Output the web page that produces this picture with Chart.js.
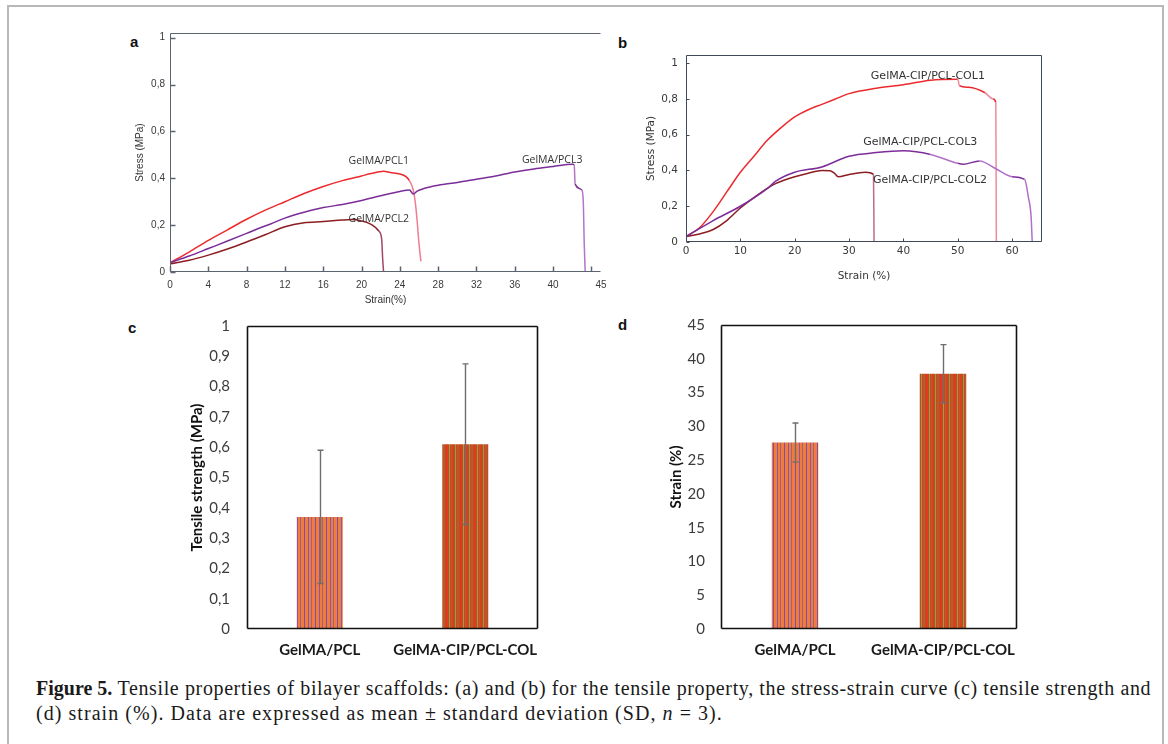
<!DOCTYPE html>
<html>
<head>
<meta charset="utf-8">
<script src="https://cdn.jsdelivr.net/npm/chart.js@4.4.1/dist/chart.umd.min.js"></script>
<style>
	html, body { margin: 0; padding: 0; background: #fff; }
	#fig { position: relative; width: 1168px; height: 744px; overflow: hidden; background: #fff; }
	#frame { position: absolute; left: 7px; top: 5px; width: 1157px; height: 800px; border: 2px solid #b8b8b8; box-sizing: border-box; }
	.panel { position: absolute; }
	.tag { position: absolute; font: bold 15px "Liberation Sans", Arial, sans-serif; line-height: 1; color: #111; }
	#caption { position: absolute; left: 36px; top: 676px; font: 20px "Liberation Serif", serif; line-height: 25px; color: #1a1a1a; white-space: nowrap; }
	#caption .l1 { letter-spacing: 0.62px; }
	#caption .l2 { letter-spacing: 1.05px; }
	#caption b { letter-spacing: 0; }
</style>
</head>
<body>
<div id="fig">
	<div id="frame"></div>
	<div class="tag" style="left:130px;top:34px">a</div>
	<div class="tag" style="left:618px;top:35px">b</div>
	<div class="tag" style="left:128px;top:320px">c</div>
	<div class="tag" style="left:618px;top:317px">d</div>
	<div class="panel" style="left:120px;top:20px;width:500px;height:300px"><canvas id="chartA"></canvas></div>
	<div class="panel" style="left:620px;top:40px;width:440px;height:250px"><canvas id="chartB"></canvas></div>
	<div class="panel" style="left:160px;top:300px;width:400px;height:370px"><canvas id="chartC"></canvas></div>
	<div class="panel" style="left:640px;top:300px;width:400px;height:370px"><canvas id="chartD"></canvas></div>
	<div id="caption"><span class="l1"><b>Figure 5.</b> Tensile properties of bilayer scaffolds: (a) and (b) for the tensile property, the stress-strain curve (c) tensile strength and</span><br><span class="l2">(d) strain (%). Data are expressed as mean ± standard deviation (SD, <i>n</i> = 3).</span></div>
</div>
<script>
( function () {
	'use strict';

	// (a) GelMA/PCL stress-strain curves
	var PCL1_STRAIN = [ 0, 2, 4, 6, 8, 10, 12, 14, 16, 18, 20, 21, 22.3, 23, 24, 24.6, 25, 25.4, 25.6, 25.8, 26, 26.2 ];
	var PCL1_STRESS = [ 0.04, 0.085, 0.135, 0.18, 0.225, 0.265, 0.3, 0.335, 0.365, 0.39, 0.41, 0.42, 0.43, 0.425, 0.418, 0.408, 0.39, 0.35, 0.3, 0.22, 0.12, 0.045 ];
	var PCL2_STRAIN = [ 0, 2, 4, 6, 8, 10, 12, 14, 16, 18, 19, 20, 21, 21.8, 22.1, 22.2, 22.3 ];
	var PCL2_STRESS = [ 0.035, 0.05, 0.072, 0.098, 0.128, 0.16, 0.193, 0.21, 0.215, 0.222, 0.224, 0.218, 0.203, 0.175, 0.14, 0.06, 0 ];
	var PCL3_STRAIN = [ 0, 2, 4, 6, 8, 9.5, 10.5, 12, 14, 16, 18, 20, 22, 24, 25, 25.4, 25.8, 26.5, 28, 30, 32, 34, 36, 38, 40, 42, 42.2, 42.3, 43, 43.15, 43.25, 43.35 ];
	var PCL3_STRESS = [ 0.04, 0.068, 0.1, 0.132, 0.165, 0.19, 0.205, 0.23, 0.255, 0.275, 0.288, 0.305, 0.325, 0.344, 0.35, 0.333, 0.345, 0.356, 0.37, 0.382, 0.396, 0.41, 0.427, 0.44, 0.45, 0.46, 0.458, 0.375, 0.35, 0.3, 0.12, 0 ];
	var A_X_TICKS = [ 0, 4, 8, 12, 16, 20, 24, 28, 32, 36, 40, 45 ];
	var A_X_LABELS = [ '0', '4', '8', '12', '16', '20', '24', '28', '32', '36', '40', '45' ];
	var A_X_MARKS = [ 0, 4, 8, 12, 16, 20, 24, 28, 32, 36, 40, 44 ];
	var A_Y_TICKS = [ 0, 0.2, 0.4, 0.6, 0.8, 1 ];
	var A_Y_LABELS = [ '0', '0,2', '0,4', '0,6', '0,8', '1' ];
	var A_NAMES = [ 'GelMA/PCL1', 'GelMA/PCL3', 'GelMA/PCL2' ];
	var A_NAME_X = [ 21.8, 39.9, 21.8 ];
	var A_NAME_Y = [ 0.474, 0.479, 0.227 ];

	// (b) GelMA-CIP/PCL-COL stress-strain curves
	var COL1_STRAIN = [ 0, 2.5, 5, 7.5, 10, 12.5, 15, 17.5, 20, 22.5, 25, 27.5, 30, 35, 40, 45, 50, 50.3, 52, 55, 56.5, 57, 57.1 ];
	var COL1_STRESS = [ 0.03, 0.08, 0.17, 0.28, 0.39, 0.48, 0.57, 0.64, 0.7, 0.74, 0.77, 0.8, 0.83, 0.86, 0.88, 0.905, 0.91, 0.875, 0.865, 0.835, 0.8, 0.78, 0 ];
	var COL2_STRAIN = [ 0, 2.5, 5, 7.5, 10, 13, 16, 18, 20, 22.5, 25, 26.5, 27.3, 28, 30, 33, 34.5, 34.6 ];
	var COL2_STRESS = [ 0.03, 0.045, 0.07, 0.12, 0.19, 0.26, 0.32, 0.345, 0.365, 0.385, 0.4, 0.398, 0.385, 0.365, 0.378, 0.39, 0.378, 0 ];
	var COL3_STRAIN = [ 0, 5, 10, 15, 16.5, 20, 25, 30, 35, 40, 45, 50, 51, 54, 57, 60, 62.3, 63, 63.5, 63.7 ];
	var COL3_STRESS = [ 0.03, 0.12, 0.2, 0.3, 0.34, 0.39, 0.42, 0.48, 0.5, 0.51, 0.49, 0.44, 0.435, 0.453, 0.41, 0.365, 0.35, 0.25, 0.14, 0 ];
	var B_X_TICKS = [ 0, 10, 20, 30, 40, 50, 60 ];
	var B_X_LABELS = [ '0', '10', '20', '30', '40', '50', '60' ];
	var B_Y_TICKS = [ 0, 0.2, 0.4, 0.6, 0.8, 1 ];
	var B_Y_LABELS = [ '0', '0,2', '0,4', '0,6', '0,8', '1' ];
	var B_NAMES = [ 'GelMA-CIP/PCL-COL1', 'GelMA-CIP/PCL-COL3', 'GelMA-CIP/PCL-COL2' ];
	var B_NAME_X = [ 44.5, 43.1, 44.9 ];
	var B_NAME_Y = [ 0.929, 0.56, 0.347 ];

	// (c), (d) bar charts, mean and SD
	var GROUPS = [ 'GelMA/PCL', 'GelMA-CIP/PCL-COL' ];
	var STRENGTH = [ 0.37, 0.61 ];
	var STRENGTH_SD = [ 0.22, 0.265 ];
	var STRAIN = [ 27.6, 37.8 ];
	var STRAIN_SD = [ 2.9, 4.3 ];
	var C_Y_LABELS = [ '0', '0,1', '0,2', '0,3', '0,4', '0,5', '0,6', '0,7', '0,8', '0,9', '1' ];
	var D_Y_LABELS = [ '0', '5', '10', '15', '20', '25', '30', '35', '40', '45' ];

	function pairs( xs, ys ) {
		return xs.map( function ( x, i ) {
			return { x: x, y: ys[ i ] };
		} );
	}

	function stripes( base, list, w ) {
		var c = document.createElement( 'canvas' );
		c.width = w;
		c.height = 4;
		var g = c.getContext( '2d' );
		g.fillStyle = base;
		g.fillRect( 0, 0, w, 4 );
		list.forEach( function ( s ) {
			g.fillStyle = s[ 2 ];
			g.fillRect( s[ 0 ], 0, s[ 1 ], 4 );
		} );
		return g.createPattern( c, 'repeat' );
	}

	// box lines and inward tick marks
	var framePlugin = {
		id: 'frame',
		afterDraw: function ( chart, args, o ) {
			var ctx = chart.ctx;
			var a = chart.chartArea;
			var L = Math.round( a.left ) + 0.5, R = Math.round( a.right ) - 0.5;
			var T = Math.round( a.top ) + 0.5, B = Math.round( a.bottom ) - 0.5;
			ctx.save();
			ctx.strokeStyle = o.color;
			ctx.lineWidth = o.width;
			ctx.beginPath();
			if ( o.sides.indexOf( 't' ) >= 0 ) { ctx.moveTo( L, T ); ctx.lineTo( R, T ); }
			if ( o.sides.indexOf( 'b' ) >= 0 ) { ctx.moveTo( L, B ); ctx.lineTo( R, B ); }
			if ( o.sides.indexOf( 'l' ) >= 0 ) { ctx.moveTo( L, T ); ctx.lineTo( L, B ); }
			if ( o.sides.indexOf( 'r' ) >= 0 ) { ctx.moveTo( R, T ); ctx.lineTo( R, B ); }
			ctx.stroke();
			if ( o.tickLen ) {
				ctx.lineWidth = o.tickWidth || 1;
				ctx.beginPath();
				( o.xMarks || [] ).forEach( function ( v ) {
					var px = Math.round( chart.scales.x.getPixelForValue( v ) ) + 0.5;
					ctx.moveTo( px, B );
					ctx.lineTo( px, B - o.tickLen );
				} );
				( o.yMarks || [] ).forEach( function ( v ) {
					var py = Math.round( chart.scales.y.getPixelForValue( v ) ) + 0.5;
					ctx.moveTo( L, py );
					ctx.lineTo( L + o.tickLen, py );
				} );
				ctx.stroke();
			}
			ctx.restore();
		},
	};

	// curve names placed in data coordinates
	var namesPlugin = {
		id: 'names',
		afterDatasetsDraw: function ( chart, args, o ) {
			var ctx = chart.ctx;
			ctx.save();
			ctx.font = o.font;
			ctx.fillStyle = o.color;
			ctx.textAlign = 'center';
			ctx.textBaseline = 'middle';
			o.names.forEach( function ( t, i ) {
				ctx.fillText( t, chart.scales.x.getPixelForValue( o.xs[ i ] ), chart.scales.y.getPixelForValue( o.ys[ i ] ) );
			} );
			ctx.restore();
		},
	};

	var errorPlugin = {
		id: 'errbars',
		afterDatasetsDraw: function ( chart, args, o ) {
			var ctx = chart.ctx;
			var ys = chart.scales.y;
			var meta = chart.getDatasetMeta( 0 );
			var vals = chart.data.datasets[ 0 ].data;
			ctx.save();
			ctx.strokeStyle = '#6e6e6e';
			ctx.lineWidth = 1.4;
			ctx.beginPath();
			meta.data.forEach( function ( bar, i ) {
				var x = Math.round( bar.x ) + 0.5;
				var top = ys.getPixelForValue( vals[ i ] + o.sd[ i ] );
				var bot = ys.getPixelForValue( vals[ i ] - o.sd[ i ] );
				ctx.moveTo( x, top ); ctx.lineTo( x, bot );
				ctx.moveTo( x - 3, top ); ctx.lineTo( x + 3, top );
				ctx.moveTo( x - 3, bot ); ctx.lineTo( x + 3, bot );
			} );
			ctx.stroke();
			ctx.restore();
		},
	};

	function lineDataset( xs, ys, color, tail ) {
		return {
			data: pairs( xs, ys ),
			borderColor: color,
			borderWidth: 1.5,
			pointRadius: 0,
			cubicInterpolationMode: 'monotone',
			segment: {
				borderColor: function ( ctx ) {
					return ctx.p1.parsed.y < ctx.p0.parsed.y - 0.03 ? tail : undefined;
				},
			},
		};
	}

	function curveOptions( cfg ) {
		return {
			responsive: true,
			maintainAspectRatio: false,
			animation: false,
			layout: { padding: cfg.padding },
			plugins: {
				legend: { display: false },
				tooltip: { enabled: false },
				frame: cfg.frame,
				names: cfg.names,
			},
			scales: {
				x: {
					type: 'linear',
					min: 0,
					max: cfg.xMax,
					grid: { display: false, drawTicks: false },
					border: { display: false },
					afterBuildTicks: function ( s ) {
						s.ticks = cfg.xTicks.map( function ( v ) { return { value: v }; } );
					},
					afterFit: function ( s ) { s.height = cfg.xHeight; },
					ticks: {
						autoSkip: false,
						maxRotation: 0,
						padding: cfg.xPad,
						color: '#3a3a3a',
						font: cfg.tickFont,
						callback: function ( v, i ) { return cfg.xLabels[ i ]; },
					},
					title: {
						display: true,
						text: cfg.xTitle,
						color: '#333',
						font: cfg.titleFont,
						padding: { top: 0, bottom: cfg.xTitlePad },
					},
				},
				y: {
					min: 0,
					max: cfg.yMax,
					grid: { display: false, drawTicks: false },
					border: { display: false },
					afterBuildTicks: function ( s ) {
						s.ticks = cfg.yTicks.map( function ( v ) { return { value: v }; } );
					},
					afterFit: function ( s ) { s.width = cfg.yWidth; },
					ticks: {
						padding: cfg.yPad,
						color: '#3a3a3a',
						font: cfg.tickFont,
						callback: function ( v, i ) { return cfg.yLabels[ i ]; },
					},
					title: {
						display: true,
						text: 'Stress (MPa)',
						color: '#333',
						font: cfg.titleFont,
						padding: { top: cfg.yTitlePad, bottom: 0 },
					},
				},
			},
		};
	}

	function barOptions( cfg ) {
		return {
			responsive: true,
			maintainAspectRatio: false,
			animation: false,
			layout: { padding: cfg.padding },
			plugins: {
				legend: { display: false },
				tooltip: { enabled: false },
				frame: { color: '#111', width: 1.6, sides: 'tblr' },
				errbars: { sd: cfg.sd },
			},
			scales: {
				x: {
					grid: { display: false, drawTicks: false },
					border: { display: false },
					afterFit: function ( s ) { s.height = 41; },
					ticks: {
						autoSkip: false,
						maxRotation: 0,
						minRotation: 0,
						padding: 12,
						color: '#1a1a1a',
						font: { family: 'Lato', size: 15, weight: 'bold' },
					},
				},
				y: {
					min: 0,
					max: cfg.yMax,
					grid: { display: false, drawTicks: false },
					border: { display: false },
					afterFit: function ( s ) { s.width = cfg.yWidth; },
					ticks: {
						stepSize: cfg.step,
						padding: cfg.yPad,
						color: '#3c3c3c',
						font: { family: 'Lato', size: 15 },
						callback: function ( v, i ) { return cfg.yLabels[ i ]; },
					},
					title: {
						display: true,
						text: cfg.yTitle,
						color: '#111',
						font: { family: 'Lato', size: 15, weight: 'bold' },
						padding: { top: cfg.yTitlePad, bottom: 0 },
					},
				},
			},
		};
	}

	function initCharts() {
		var smallFont = { family: 'Liberation Sans', size: 10 };

		new Chart( document.getElementById( 'chartA' ), {
			type: 'line',
			data: {
				datasets: [
					lineDataset( PCL3_STRAIN, PCL3_STRESS, '#7b2d98', '#b475c4' ),
					lineDataset( PCL2_STRAIN, PCL2_STRESS, '#8c1d22', '#a04860' ),
					lineDataset( PCL1_STRAIN, PCL1_STRESS, '#ec2a2e', '#ee7c92' ),
				],
			},
			options: curveOptions( {
				padding: { top: 13, right: 19, left: 0, bottom: 0 },
				xMax: 45,
				yMax: 1.02,
				xTicks: A_X_TICKS,
				xLabels: A_X_LABELS,
				yTicks: A_Y_TICKS,
				yLabels: A_Y_LABELS,
				xHeight: 48,
				yWidth: 50,
				xPad: 7,
				yPad: 5,
				xTitle: 'Strain(%)',
				xTitlePad: 14,
				yTitlePad: 14,
				tickFont: smallFont,
				titleFont: { family: 'Liberation Sans', size: 10 },
				frame: { color: '#5c6470', width: 1, sides: 'tbl', tickLen: 5, tickWidth: 1.5, xMarks: A_X_MARKS, yMarks: A_Y_TICKS },
				names: { names: A_NAMES, xs: A_NAME_X, ys: A_NAME_Y, font: '10.5px "Open Sans"', color: '#333' },
			} ),
			plugins: [ framePlugin, namesPlugin ],
		} );

		new Chart( document.getElementById( 'chartB' ), {
			type: 'line',
			data: {
				datasets: [
					lineDataset( COL3_STRAIN, COL3_STRESS, '#7d2d9a', '#b070c8' ),
					lineDataset( COL2_STRAIN, COL2_STRESS, '#8c1d22', '#c06a88' ),
					lineDataset( COL1_STRAIN, COL1_STRESS, '#ec2a2e', '#ec8aa0' ),
				],
			},
			options: curveOptions( {
				padding: { top: 15, right: 18, left: 0, bottom: 0 },
				xMax: 65.5,
				yMax: 1.046,
				xTicks: B_X_TICKS,
				xLabels: B_X_LABELS,
				yTicks: B_Y_TICKS,
				yLabels: B_Y_LABELS,
				xHeight: 48,
				yWidth: 66,
				xPad: 3,
				yPad: 8,
				xTitle: 'Strain (%)',
				xTitlePad: 7,
				yTitlePad: 25,
				tickFont: { family: 'DejaVu Sans', size: 10.5 },
				titleFont: { family: 'DejaVu Sans', size: 10.5 },
				frame: { color: '#3e4a58', width: 1, sides: 'tblr', tickLen: 3, xMarks: B_X_TICKS, yMarks: B_Y_TICKS },
				names: { names: B_NAMES, xs: B_NAME_X, ys: B_NAME_Y, font: '11px "DejaVu Sans"', color: '#333' },
			} ),
			plugins: [ framePlugin, namesPlugin ],
		} );

		var fillA = stripes( '#ef7b3c', [ [ 1, 1, '#7f4ea6' ], [ 5, 1, '#8a55a8' ], [ 8, 1, '#a06080' ] ], 11 );
		var fillB = stripes( '#d3431f', [ [ 1, 1, '#8da243' ], [ 3, 2, '#a4652c' ], [ 6, 1, '#f0301c' ], [ 9, 1, '#92a444' ], [ 11, 1, '#b0602a' ] ], 14 );

		new Chart( document.getElementById( 'chartC' ), {
			type: 'bar',
			data: {
				labels: GROUPS,
				datasets: [ {
					data: STRENGTH,
					backgroundColor: [ fillA, fillB ],
					barPercentage: 0.316,
					categoryPercentage: 1,
				} ],
			},
			options: barOptions( {
				padding: { top: 23, right: 22, left: 0, bottom: 0 },
				yMax: 1,
				step: 0.1,
				yLabels: C_Y_LABELS,
				yWidth: 87,
				yPad: 17,
				yTitle: 'Tensile strength (MPa)',
				yTitlePad: 28,
				sd: STRENGTH_SD,
			} ),
			plugins: [ framePlugin, errorPlugin ],
		} );

		new Chart( document.getElementById( 'chartD' ), {
			type: 'bar',
			data: {
				labels: GROUPS,
				datasets: [ {
					data: STRAIN,
					backgroundColor: [ fillA, fillB ],
					barPercentage: 0.314,
					categoryPercentage: 1,
				} ],
			},
			options: barOptions( {
				padding: { top: 23, right: 23, left: 0, bottom: 0 },
				yMax: 45,
				step: 5,
				yLabels: D_Y_LABELS,
				yWidth: 81,
				yPad: 16,
				yTitle: 'Strain (%)',
				yTitlePad: 27,
				sd: STRAIN_SD,
			} ),
			plugins: [ framePlugin, errorPlugin ],
		} );
	}

	if ( document.readyState === 'loading' ) {
		document.addEventListener( 'DOMContentLoaded', initCharts );
	} else {
		initCharts();
	}
} )();
</script>
</body>
</html>
